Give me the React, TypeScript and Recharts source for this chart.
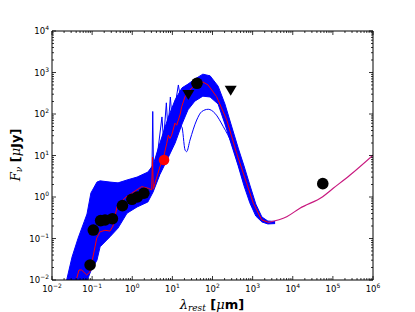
import React from "react";
import { ComposedChart, Area, Line, Scatter, XAxis, YAxis } from "recharts";

// wavelength in micron, flux in microJy

// envelope of the blue model band: [lambda, low, high]
const BAND_LAM = [0.022, 0.0316, 0.0447, 0.0631, 0.0745, 0.0933, 0.132, 0.158, 0.279, 0.442, 0.741, 1.32, 2.45, 3.31, 4.9, 7.76, 11.7, 17.4, 24.5, 36.3, 57.5, 87.1, 138, 204, 288, 437, 610, 851, 1200, 1700, 2400, 3630];
const BAND_LOW = [0.005, 0.005, 0.005, 0.005, 0.0095, 0.0166, 0.03, 0.063, 0.11, 0.178, 0.407, 0.575, 0.759, 1.32, 3.5, 8.7, 20, 57.5, 126, 204, 269, 257, 174, 57.5, 20, 5.62, 1.86, 0.724, 0.347, 0.251, 0.224, 0.229];
const BAND_HIGH = [0.008, 0.0358, 0.102, 0.251, 0.389, 1.25, 2.29, 2.45, 2.29, 2.19, 2.57, 3.02, 3.98, 5.89, 20, 79, 219, 427, 525, 692, 912, 832, 468, 174, 57.5, 15.1, 5.62, 1.95, 0.676, 0.331, 0.263, 0.257];

// model with strong PAH spikes
const SPIKE_LAM = [1.55, 2.75, 3.09, 3.24, 3.39, 4.37, 5.5, 6.03, 7.08, 7.76, 8.91, 9.77, 12.3, 14.1, 16.2, 20.4];
const SPIKE_F = [2.88, 3.98, 3.39, 115, 4.47, 13.5, 85, 23.4, 186, 40.7, 257, 79.4, 219, 501, 219, 380];

// faint model with a low far-IR bump
const LOW_LAM = [11.6, 17.1, 20.7, 22.7, 27.5, 40.4, 53.8, 78.5, 115, 186, 301, 484, 711];
const LOW_F = [40.7, 49.4, 13.6, 12.4, 23.6, 71.6, 114, 130, 104, 49.4, 19.7, 4.48, 1.48];

// best fit
const FIT_LAM = [0.0413, 0.0471, 0.055, 0.0733, 0.0885, 0.107, 0.118, 0.13, 0.158, 0.209, 0.279, 0.331, 0.417, 0.495, 0.698, 0.968, 1.72, 2.51, 3.05, 3.2, 3.35, 3.69, 4.9, 5.94, 7.23, 7.94, 8.71, 9.62, 11.6, 12.8, 15.5, 17.1, 20.7, 24.9, 27.5, 40.4, 57.9, 77.6, 126, 226, 401, 711, 1040, 1680, 2450];
const FIT_F = [0.011, 0.0174, 0.0174, 0.0132, 0.0158, 0.0398, 0.063, 0.102, 0.145, 0.158, 0.151, 0.2, 0.575, 0.724, 1.0, 1.23, 1.78, 1.62, 1.48, 9.12, 1.55, 2.14, 5.37, 8.51, 19.5, 30.9, 25.7, 30.9, 60.3, 53.7, 95.5, 151, 263, 347, 380, 550, 589, 501, 263, 72.4, 11.2, 2.14, 0.708, 0.282, 0.245];

// radio tail
const TAIL_LAM = [2450, 7080, 15100, 55700, 102000, 269000, 1000000];
const TAIL_F = [0.245, 0.335, 0.537, 1.02, 1.62, 3.39, 10.2];

// photometry
const DET_LAM = [0.089, 0.107, 0.163, 0.21, 0.32, 0.57, 0.98, 1.34, 1.95, 41, 56000];
const DET_F = [0.023, 0.16, 0.27, 0.28, 0.3, 0.62, 0.88, 1.0, 1.23, 550, 2.1];
const RED_LAM = [6.2];
const RED_F = [7.8];
const LIM_LAM = [25, 284];
const LIM_F = [287, 363];

const X_MAJOR = [1e-2, 1e-1, 1, 10, 100, 1e3, 1e4, 1e5, 1e6];
const Y_MAJOR = [1e-2, 1e-1, 1, 10, 100, 1e3, 1e4];
const MINOR_STEPS = [2, 3, 4, 5, 6, 7, 8, 9];

const withMinor = (major: number[]) => {
  const out: number[] = [];
  major.forEach((m, i) => {
    out.push(m);
    if (i < major.length - 1) MINOR_STEPS.forEach((s) => out.push(m * s));
  });
  return out;
};
const X_TICKS = withMinor(X_MAJOR);
const Y_TICKS = withMinor(Y_MAJOR);

const pts = (xs: number[], ys: number[]) => xs.map((x, i) => ({ x, y: ys[i] }));
const bandData = BAND_LAM.map((x, i) => ({ x, y: [BAND_LOW[i], BAND_HIGH[i]] }));

const isMajor = (v: number) => Math.abs(Math.log10(v) - Math.round(Math.log10(v))) < 1e-6;
const expOf = (v: number) => {
  const e = Math.round(Math.log10(v));
  return e < 0 ? "\u2212" + Math.abs(e) : String(e);
};

const TICK_FONT = "DejaVu Sans, sans-serif";
const MAJ = 4;
const MIN = 2;

function BottomTick(props: any) {
  const { x, y, payload } = props;
  const major = isMajor(payload.value);
  return (
    <g>
      <line x1={x} x2={x} y1={y} y2={y - (major ? MAJ : MIN)} stroke="#000" strokeWidth={0.8} />
      {major && (
        <text x={x} y={y + 12} textAnchor="middle" fontSize={8.5} fontFamily={TICK_FONT} fill="#000">
          10
          <tspan dy={-4} fontSize={6}>{expOf(payload.value)}</tspan>
        </text>
      )}
    </g>
  );
}

function TopTick(props: any) {
  const { x, y, payload } = props;
  const major = isMajor(payload.value);
  return <line x1={x} x2={x} y1={y} y2={y + (major ? MAJ : MIN)} stroke="#000" strokeWidth={0.8} />;
}

function LeftTick(props: any) {
  const { x, y, payload } = props;
  const major = isMajor(payload.value);
  return (
    <g>
      <line x1={x} x2={x + (major ? MAJ : MIN)} y1={y} y2={y} stroke="#000" strokeWidth={0.8} />
      {major && (
        <text x={x - 3} y={y + 3} textAnchor="end" fontSize={8.5} fontFamily={TICK_FONT} fill="#000">
          10
          <tspan dy={-4} fontSize={6}>{expOf(payload.value)}</tspan>
        </text>
      )}
    </g>
  );
}

function RightTick(props: any) {
  const { x, y, payload } = props;
  const major = isMajor(payload.value);
  return <line x1={x} x2={x - (major ? MAJ : MIN)} y1={y} y2={y} stroke="#000" strokeWidth={0.8} />;
}

const dot = (r: number, fill: string) => (p: any) => <circle cx={p.cx} cy={p.cy} r={r} fill={fill} />;
const triangle = (p: any) => (
  <polygon points={`${p.cx - 6},${p.cy - 5} ${p.cx + 6},${p.cy - 5} ${p.cx},${p.cy + 5}`} fill="#000" />
);

const W = 415;
const H = 312;

export default function App() {
  return (
    <div style={{ position: "absolute", left: 0, top: 0, width: W, height: H, background: "#fff" }}>
      <ComposedChart width={W} height={H} margin={{ top: 30, right: 41, bottom: 31, left: 51 }}>
        <XAxis
          dataKey="x"
          type="number"
          scale="log"
          domain={[1e-2, 1e6]}
          allowDataOverflow
          ticks={X_TICKS}
          interval={0}
          height={1}
          tickSize={0}
          tickMargin={0}
          tick={BottomTick}
          axisLine={{ stroke: "#000" }}
          tickLine={false}
        />
        <XAxis
          xAxisId="top"
          orientation="top"
          dataKey="x"
          type="number"
          scale="log"
          domain={[1e-2, 1e6]}
          allowDataOverflow
          ticks={X_TICKS}
          interval={0}
          height={1}
          tickSize={0}
          tickMargin={0}
          tick={TopTick}
          axisLine={false}
          tickLine={false}
        />
        <YAxis
          dataKey="y"
          type="number"
          scale="log"
          domain={[1e-2, 1e4]}
          allowDataOverflow
          ticks={Y_TICKS}
          interval={0}
          width={1}
          tickSize={0}
          tickMargin={0}
          tick={LeftTick}
          axisLine={{ stroke: "#000" }}
          tickLine={false}
        />
        <YAxis
          yAxisId="right"
          orientation="right"
          dataKey="y"
          type="number"
          scale="log"
          domain={[1e-2, 1e4]}
          allowDataOverflow
          ticks={Y_TICKS}
          interval={0}
          width={1}
          tickSize={0}
          tickMargin={0}
          tick={RightTick}
          axisLine={{ stroke: "#000" }}
          tickLine={false}
        />
        <Area data={bandData} dataKey="y" type="linear" stroke="#0000ff" strokeWidth={1} fill="#0000ff" fillOpacity={1} isAnimationActive={false} />
        <Line data={pts(LOW_LAM, LOW_F)} dataKey="y" type="monotone" stroke="#0000ff" strokeWidth={1} dot={false} isAnimationActive={false} />
        <Line data={pts(SPIKE_LAM, SPIKE_F)} dataKey="y" type="linear" stroke="#0000ff" strokeWidth={1} dot={false} isAnimationActive={false} />
        <Line data={pts(TAIL_LAM, TAIL_F)} dataKey="y" type="monotone" stroke="#c8197f" strokeWidth={1.2} dot={false} isAnimationActive={false} />
        <Line data={pts(FIT_LAM, FIT_F)} dataKey="y" type="linear" stroke="#ff0000" strokeWidth={1} dot={false} isAnimationActive={false} />
        <Scatter data={pts(DET_LAM, DET_F)} dataKey="y" shape={dot(5.8, "#000")} isAnimationActive={false} />
        <Scatter data={pts(RED_LAM, RED_F)} dataKey="y" shape={dot(5.3, "#ff0000")} isAnimationActive={false} />
        <Scatter data={pts(LIM_LAM, LIM_F)} dataKey="y" shape={triangle} isAnimationActive={false} />
      </ComposedChart>
      <svg width={W} height={H} style={{ position: "absolute", left: 0, top: 0, pointerEvents: "none" }}>
        {/* top frame line */}
        <line x1={52} x2={373} y1={31} y2={31} stroke="#000" strokeWidth={1} />
        <text x={212} y={309} textAnchor="middle" fill="#000">
          <tspan fontFamily="DejaVu Serif, serif" fontStyle="italic" fontSize={13}>λ</tspan>
          <tspan fontFamily="DejaVu Serif, serif" fontStyle="italic" fontSize={9} dy={2}>rest</tspan>
          <tspan fontFamily="DejaVu Sans, sans-serif" fontWeight="bold" fontSize={13} dy={-2}> [</tspan>
          <tspan fontFamily="DejaVu Serif, serif" fontStyle="italic" fontSize={13}>μ</tspan>
          <tspan fontFamily="DejaVu Sans, sans-serif" fontWeight="bold" fontSize={13}>m]</tspan>
        </text>
        <text transform="rotate(-90)" x={-155} y={19.5} textAnchor="middle" fill="#000">
          <tspan fontFamily="DejaVu Serif, serif" fontStyle="italic" fontSize={13}>F</tspan>
          <tspan fontFamily="DejaVu Serif, serif" fontStyle="italic" fontSize={9} dy={2}>ν</tspan>
          <tspan fontFamily="DejaVu Sans, sans-serif" fontWeight="bold" fontSize={13} dy={-2}> [</tspan>
          <tspan fontFamily="DejaVu Serif, serif" fontStyle="italic" fontSize={13}>μ</tspan>
          <tspan fontFamily="DejaVu Sans, sans-serif" fontWeight="bold" fontSize={13}>Jy]</tspan>
        </text>
      </svg>
    </div>
  );
}
